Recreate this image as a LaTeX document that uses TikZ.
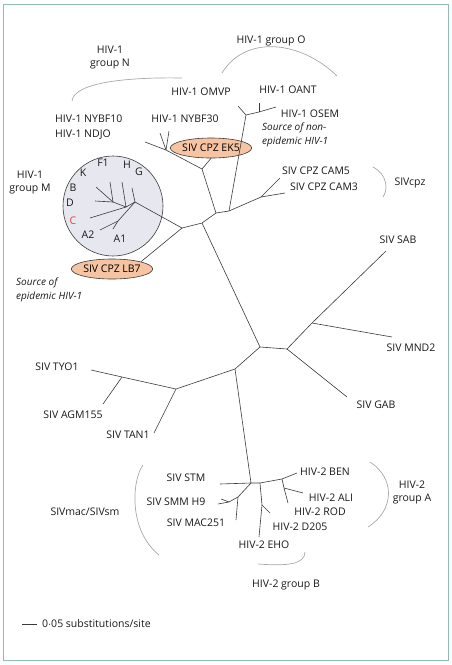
\documentclass[tikz,border=0pt]{standalone}
\usepackage{fontspec}
\setmainfont{Open Sans}
\usetikzlibrary{calc}
\usetikzlibrary{shapes.geometric}

\definecolor{branchcol}{HTML}{3A3A3A}
\definecolor{bracecol}{HTML}{A8A8A8}
\definecolor{framecol}{HTML}{8FBDB3}
\definecolor{peach}{HTML}{F6C4A2}
\definecolor{lilac}{HTML}{E7E7F0}
\definecolor{subred}{HTML}{E0403A}

\tikzset{
  branch/.style={branchcol, line width=0.6pt},
  brace/.style={bracecol, line width=0.7pt},
  taxon/.style={inner sep=0pt, text=black!90},
  source/.style={taxon, font=\fontsize{10}{14}\selectfont\itshape, align=left},
  chimp/.style={ellipse, draw=branchcol, fill=peach, line width=0.6pt,
    minimum width=78pt, minimum height=20pt, inner sep=0pt},
}

\begin{document}
\begin{tikzpicture}[x=1pt, y=-1pt, font=\fontsize{10.5}{13}\selectfont]
    \useasboundingbox (0,0) rectangle (452,665);
    \draw[framecol, line width=1pt] (3,4.5) rectangle (448,660);

    % internal nodes of the tree
    \coordinate (r1) at (182,228);
    \coordinate (r2) at (202,223);
    \coordinate (r3) at (216,213);
    \coordinate (r4) at (229,211);
    \coordinate (n1) at (202,169);
    \coordinate (n2) at (166,150);
    \coordinate (o1) at (246,115);
    \coordinate (o2) at (259,112);
    \coordinate (cam) at (261,197);
    \coordinate (c1) at (260,347);
    \coordinate (c2) at (287,349);
    \coordinate (c3) at (235,369);
    \coordinate (sab) at (312,323);
    \coordinate (lft) at (176,389);
    \coordinate (tyo) at (122,377);
    \coordinate (b0) at (251,483);
    \coordinate (smm) at (238,497);
    \coordinate (b1) at (260,483);
    \coordinate (eho) at (262,505);
    \coordinate (b2) at (282,479);
    \coordinate (ali) at (284,488);

    % group M circle
    \node[circle, draw=branchcol, fill=lilac, line width=0.6pt, minimum size=100pt,
      inner sep=0pt] (groupM) at (113,206) {};
    \coordinate (m0) at (135,202);
    \coordinate (m1) at (126,207);
    \coordinate (m2) at (113,202);
    \coordinate (ma) at (118,221);

    % the two chimpanzee viruses
    \node[chimp] (ek5) at (211,148) {SIV CPZ EK5};
    \node[chimp] (lb7) at (112,269) {SIV CPZ LB7};

    % branches
    \draw[branch] (lb7.north east) -- (r1) -- (m0);
    \draw[branch] (r1) -- (r2) -- (r3) -- (r4) -- (cam);
    \draw[branch] (r3) -- (n1) -- (n2) -- (145,142);
    \draw[branch] (n1) -- (ek5.south);
    \draw[branch] (n2) -- (160,133);
    \draw[branch] (n2) -- (169,131);
    \draw[branch] (r4) -- (o1) -- (o2);
    \draw[branch] (o1) -- (238,106);
    \draw[branch] (o2) -- (259,103);
    \draw[branch] (o2) -- (276,107);
    \draw[branch] (cam) -- (280,178);
    \draw[branch] (cam) -- (285,193);
    \draw[branch] (r2) -- (c1) -- (c2) -- (sab) -- (386,251);
    \draw[branch] (sab) -- (392,337);
    \draw[branch] (c2) -- (347,397);
    \draw[branch] (c1) -- (c3) -- (lft) -- (tyo) -- (91,370);
    \draw[branch] (tyo) -- (103,404);
    \draw[branch] (lft) -- (154,433);
    \draw[branch] (c3) -- (b0) -- (220,484);
    \draw[branch] (b0) -- (smm) -- (236,520);
    \draw[branch] (smm) -- (229,502) -- (218,504);
    \draw[branch] (229,502) -- (221,499);
    \draw[branch] (b0) -- (b1) -- (b2) -- (297,473);
    \draw[branch] (b1) -- (eho) -- (259,537);
    \draw[branch] (eho) -- (270,513);
    \draw[branch] (b2) -- (ali) -- (288,503);
    \draw[branch] (ali) -- (303,493);

    % subtypes inside the circle
    \draw[branch] (m0) -- (132,188);
    \draw[branch] (m0) -- (m1) -- (122,182);
    \draw[branch] (m1) -- (m2) -- (110,182);
    \draw[branch] (m2) -- (96,187);
    \draw[branch] (m2) -- (95,201);
    \draw[branch] (m1) -- (90,218);
    \draw[branch] (m0) -- (ma) -- (100,230);
    \draw[branch] (ma) -- (113,229);
    \node[taxon] (F1) at (103,163) {F1};
    \node[taxon] (H) at (127,165) {H};
    \node[taxon] (G) at (139,172) {G};
    \node[taxon] (K) at (83,173) {K};
    \node[taxon] (B) at (73,188) {B};
    \node[taxon] (D) at (70,203) {D};
    \node[taxon, text=subred] (C) at (73,221) {C};
    \node[taxon] (A2) at (88,235) {A2};
    \node[taxon] (A1) at (120,239) {A1};

    % taxon labels
    \node[taxon] (omvp) at (201,92) {HIV-1 OMVP};
    \node[taxon] (oant) at (288,90) {HIV-1 OANT};
    \node[taxon] (osem) at (310,114) {HIV-1 OSEM};
    \node[taxon, anchor=west] (nybf10) at (55,119) {HIV-1 NYBF10};
    \node[taxon, anchor=west] (ndjo) at (55,135) {HIV-1 NDJO};
    \node[taxon] (nybf30) at (185,119) {HIV-1 NYBF30};
    \node[taxon] (cam5) at (316,171) {SIV CPZ CAM5};
    \node[taxon] (cam3) at (324,187) {SIV CPZ CAM3};
    \node[taxon] (sablab) at (398,240) {SIV SAB};
    \node[taxon] (mnd2) at (411,348) {SIV MND2};
    \node[taxon] (gab) at (376,405) {SIV GAB};
    \node[taxon] (tyo1) at (57,367) {SIV TYO1};
    \node[taxon] (agm) at (73,415) {SIV AGM155};
    \node[taxon] (tan1) at (128,435) {SIV TAN1};
    \node[taxon] (stm) at (186,478) {SIV STM};
    \node[taxon] (smmh9) at (176,502) {SIV SMM H9};
    \node[taxon] (mac) at (196,523) {SIV MAC251};
    \node[taxon] (ben) at (325,472) {HIV-2 BEN};
    \node[taxon] (alilab) at (331,498) {HIV-2 ALI};
    \node[taxon] (rod) at (320,512) {HIV-2 ROD};
    \node[taxon] (d205) at (300,527) {HIV-2 D205};
    \node[taxon] (ehol) at (264,545) {HIV-2 EHO};

    % group labels and their brackets
    \node[taxon, align=center] (grpN) at (110,58) {HIV-1\\group N};
    \node[taxon] (grpO) at (271,41) {HIV-1 group O};
    \node[taxon, align=center] (grpM) at (30,183) {HIV-1\\group M};
    \node[taxon] (sivcpz) at (410,183) {SIVcpz};
    \node[taxon, align=center] (grpA) at (412,492) {HIV-2\\group A};
    \node[taxon] (grpB) at (286,585) {HIV-2 group B};
    \node[taxon] (sivmac) at (85,512) {SIVmac/SIVsm};
    \draw[brace] (72,101) .. controls (74,82) and (130,77) .. (182,78);
    \draw[brace] (222,73) .. controls (245,35) and (300,40) .. (337,76);
    \draw[brace] (373,167) .. controls (388,175) and (388,190) .. (383,197);
    \draw[brace] (370,462) .. controls (395,478) and (395,510) .. (368,527);
    \draw[brace] (258,564) .. controls (285,566) and (305,565) .. (305,552);
    \draw[brace] (143,465) .. controls (132,480) and (128,530) .. (159,555);

    \node[source, anchor=west] (nonepi) at (262,135) {Source of non-\\epidemic HIV-1};
    \node[source, anchor=west] (epi) at (16,290) {Source of\\epidemic HIV-1};

    % scale bar
    \coordinate (bar0) at (22,624);
    \coordinate (bar1) at (37,624);
    \draw[branch] (bar0) -- (bar1);
    \node[taxon, anchor=west] (barlab) at (42,624) {0$\cdot$05 substitutions/site};
\end{tikzpicture}
\end{document}
